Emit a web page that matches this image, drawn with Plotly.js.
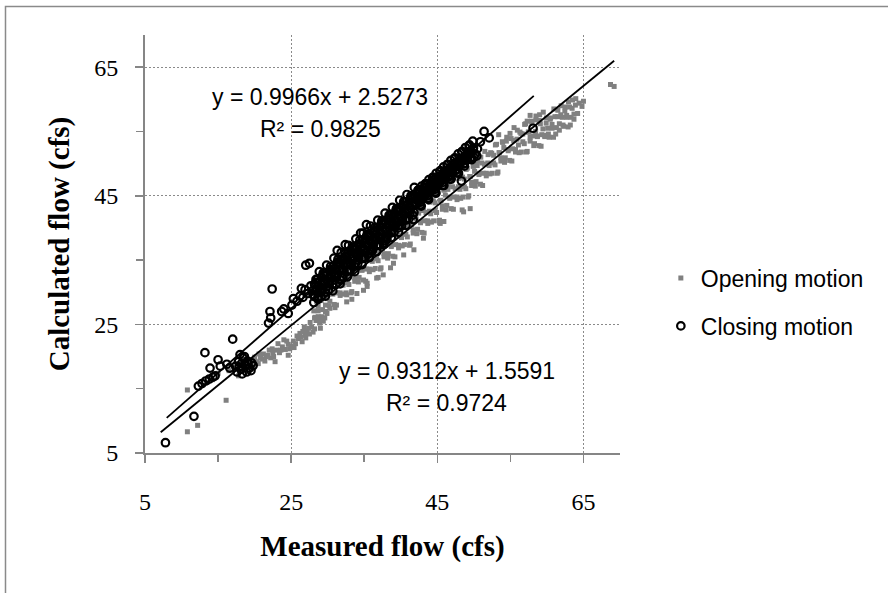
<!DOCTYPE html>
<html><head><meta charset="utf-8">
<script src="https://cdn.plot.ly/plotly-3.0.1.min.js"></script>
<style>html,body{margin:0;padding:0;background:#fff}#chart{width:888px;height:593px}</style>
</head><body><div id="chart"></div>
<script>
// ---- Opening motion (gray squares): measured flow (x), calculated flow (y)
const openX = [
  10.8,12.2,10.8,16.1,15.0,13.5,14.2,
  16.5,17.2,17.8,18.3,18.8,19.2,19.6,20.0,20.3,20.6,
  19.8,20.5,21.0,21.4,21.8,22.2,22.5,22.8,23.0,23.4,23.8,24.2,24.6,24.6,25.0,25.3,25.6,26.0,26.2,26.5,26.9,27.2,27.5,27.8,28.2,28.7,29.0,29.4,29.9,30.3,
  21.2,22.0,23.2,24.0,25.8,26.8,27.6,28.4,
  20.0,20.8,21.6,22.4,22.6,23.6,24.4,24.8,25.4,26.3,26.6,27.0,27.4,28.0,28.9,29.6,
  31.0,32.6,32.6,33.3,34.0,34.9,35.4,35.4,36.7,36.9,37.6,38.6,39.0,40.4,41.8,43.1,45.4,45.9,48.4,48.6,49.5,
  28.1,28.3,28.5,28.7,28.9,29.1,29.3,29.5,29.7,29.9,
  30.1,30.3,30.5,30.7,30.9,31.1,31.3,31.5,31.7,31.9,
  32.1,32.3,32.5,32.7,32.9,33.1,33.3,33.5,33.7,33.9,
  34.1,34.3,34.5,34.7,34.9,35.1,35.3,35.5,35.7,35.9,
  36.1,36.3,36.5,36.7,36.9,37.1,37.3,37.5,37.7,37.9,
  38.1,38.3,38.5,38.7,38.9,39.1,39.3,39.5,39.7,39.9,
  40.1,40.3,40.5,40.7,40.9,41.1,41.3,41.5,41.7,41.9,
  42.1,42.3,42.5,42.7,42.9,43.1,43.3,43.5,43.7,43.9,
  44.1,44.3,44.5,44.7,44.9,45.1,45.3,45.5,45.7,45.9,
  46.1,46.3,46.5,46.7,46.9,47.1,47.3,47.5,47.7,47.9,
  48.1,48.3,48.5,48.7,48.9,49.1,49.3,49.5,49.7,49.9,
  50.1,50.3,50.5,50.7,50.9,51.1,51.3,51.5,51.7,51.9,
  52.1,52.3,52.5,52.7,52.9,53.1,53.3,53.5,53.7,53.9,
  54.1,54.3,54.5,54.7,54.9,55.1,55.3,55.5,55.7,55.9,
  56.1,56.3,56.5,56.7,56.9,57.1,57.3,57.5,57.7,57.9,
  58.1,58.3,58.5,58.7,58.9,59.1,59.3,59.5,59.7,59.9,
  60.1,60.3,60.5,60.7,60.9,61.1,61.3,61.5,61.7,61.9,
  62.1,62.3,62.5,62.7,62.9,63.1,63.3,63.5,63.7,63.9,
  28.2,28.45,28.7,28.95,29.2,29.45,29.7,29.95,
  30.2,30.45,30.7,30.95,31.2,31.45,31.7,31.95,
  32.2,32.45,32.7,32.95,33.2,33.45,33.7,33.95,
  34.2,34.45,34.7,34.95,35.2,35.45,35.7,35.95,
  36.2,36.45,36.7,36.95,37.2,37.45,37.7,37.95,
  38.2,38.45,38.7,38.95,39.2,39.45,39.7,39.95,
  40.2,40.45,40.7,40.95,41.2,41.45,41.7,41.95,
  42.2,42.45,42.7,42.95,43.2,43.45,43.7,43.95,
  44.2,44.45,44.7,44.95,45.2,45.45,45.7,45.95,
  46.2,46.45,46.7,46.95,47.2,47.45,47.7,47.95,
  48.2,48.45,48.7,48.95,49.2,49.45,49.7,49.95,
  50.2,50.45,50.7,50.95,51.2,51.45,51.7,51.95,
  52.2,52.45,52.7,52.95,53.2,53.45,53.7,53.95,
  54.2,54.45,54.7,54.95,55.2,55.45,55.7,55.95,
  56.2,56.45,56.7,56.95,57.2,57.45,57.7,57.95,
  58.2,58.45,58.7,58.95,59.2,59.45,59.7,59.95,
  60.2,60.45,60.7,60.95,61.2,61.45,61.7,61.95,
  62.2,62.45,62.7,62.95,63.2,63.45,63.7,63.95,
  64.2,64.4,64.8,65.0,68.7,69.2,53.4,57.3,57.7,58.5,59.0
];
const openY = [
  8.3,9.3,14.8,13.2,17.4,16.0,16.4,
  17.8,18.4,17.0,18.8,17.8,19.5,18.4,19.9,19.2,20.4,
  18.7,18.9,19.6,19.3,20.2,19.8,20.6,19.2,21.0,20.6,21.5,21.1,21.9,20.2,21.6,22.4,22.0,22.8,23.6,22.3,23.3,24.0,23.5,24.6,24.3,26.2,24.4,25.5,26.7,27.5,
  20.4,21.0,22.0,22.6,23.2,24.6,25.3,25.6,
  19.4,19.8,20.0,21.2,20.0,21.0,22.4,21.2,21.4,23.0,23.9,22.9,24.4,23.8,25.2,26.0,
  27.6,28.5,29.6,28.9,29.8,30.3,30.9,31.4,32.2,32.3,32.7,33.8,34.5,35.8,36.6,38.4,40.7,41.0,42.8,42.5,43.0,
  27.1,26.1,28.5,27.1,25.9,28.7,27.3,30.0,27.0,29.0,
  30.2,28.6,31.8,29.9,28.1,31.5,29.9,33.3,29.5,31.5,
  31.1,33.0,29.9,32.7,31.2,34.4,30.1,33.1,32.2,34.7,
  33.9,32.3,35.5,33.6,31.9,35.2,33.6,37.0,33.2,35.2,
  34.8,36.8,33.7,36.4,34.9,38.1,33.8,36.8,36.0,38.5,
  37.6,36.0,39.2,37.3,35.6,39.0,37.4,40.7,36.9,38.9,
  38.5,40.5,37.4,40.2,38.6,41.8,37.5,40.5,39.7,42.2,
  41.4,39.8,42.9,41.0,39.3,42.7,41.1,44.5,40.7,42.6,
  42.2,44.2,41.1,43.9,42.4,45.6,41.2,44.2,43.4,45.9,
  45.1,43.5,46.7,44.8,43.0,46.4,44.8,48.2,44.4,46.4,
  46.0,47.9,44.8,47.6,46.1,49.3,45.0,48.0,47.1,49.6,
  48.8,47.2,50.4,48.5,46.8,50.1,48.5,51.9,48.1,50.1,
  49.7,51.7,48.5,51.3,49.8,53.0,48.7,51.7,50.9,53.4,
  52.5,50.9,54.1,52.2,50.5,53.9,52.3,55.6,51.8,53.8,
  52.9,54.9,51.8,54.6,53.1,56.2,51.9,54.9,54.1,56.6,
  54.3,53.1,56.8,54.3,52.8,56.2,54.5,58.0,54.2,56.3,
  55.5,54.1,57.1,55.5,54.1,57.3,55.6,58.3,55.2,57.6,
  57.2,55.8,58.8,57.2,55.7,58.8,57.2,59.9,56.9,59.1,
  26.0,29.3,27.8,30.5,26.2,29.4,28.0,31.0,
  27.9,31.1,29.7,32.4,28.0,31.3,29.9,32.8,
  29.7,33.0,31.5,34.2,29.9,33.1,31.7,34.7,
  31.6,34.8,33.4,36.1,31.7,35.0,33.6,36.5,
  33.5,36.7,35.2,38.0,33.6,36.8,35.5,38.4,
  35.3,38.6,37.1,39.8,35.5,38.7,37.3,40.3,
  37.2,40.4,39.0,41.7,37.3,40.6,39.2,42.1,
  39.1,42.3,40.8,43.6,39.2,42.4,41.1,44.0,
  40.9,44.2,42.7,45.4,41.1,44.3,42.9,45.9,
  42.8,46.0,44.6,47.3,42.9,46.1,44.8,47.7,
  44.6,47.9,46.4,49.1,44.8,48.0,46.6,49.6,
  46.5,49.7,48.3,51.0,46.6,49.9,48.5,51.4,
  48.4,51.6,50.1,52.9,48.5,51.7,50.4,53.3,
  50.2,53.5,52.0,54.7,50.4,53.6,52.2,55.2,
  51.7,54.7,53.4,56.1,51.8,54.9,53.5,56.4,
  52.8,55.0,54.2,56.7,52.7,55.4,54.4,57.1,
  54.6,56.9,56.1,58.5,54.6,57.3,56.2,59.0,
  56.0,58.2,57.5,59.6,56.0,58.6,57.7,60.1,
  57.8,59.4,58.9,59.7,62.3,62.0,54.5,56.6,57.5,57.4,57.6
];

// ---- Closing motion (black open circles)
const closeX = [
  7.8,11.7,12.3,13.2,12.8,13.3,13.8,14.3,14.6,13.9,15.0,15.3,16.6,17.0,16.2,
  17.4,17.8,18.1,18.4,18.7,19.0,19.3,19.6,18.0,18.9,19.5,17.6,18.3,19.8,18.6,18.2,19.1,17.9,
  21.9,22.1,22.2,22.4,23.7,24.6,25.3,25.1,24.0,25.8,26.2,26.6,26.9,27.0,27.5,27.3,27.7,26.4,27.9,
  28.0,28.2,28.4,28.6,28.8,
  29.0,29.2,29.4,29.7,29.9,
  30.1,30.3,30.5,30.8,30.9,
  31.1,31.3,31.3,31.6,31.8,31.9,
  32.0,32.2,32.4,32.5,32.7,32.9,
  33.0,33.2,33.4,33.6,33.8,33.9,
  34.0,34.2,34.5,34.4,34.7,34.9,
  35.0,35.1,35.3,35.2,35.5,35.7,35.9,
  36.0,36.1,36.3,36.5,36.7,36.9,
  37.0,37.2,37.4,37.6,37.7,37.9,
  38.0,38.2,38.4,38.6,38.8,38.9,
  39.0,39.2,39.4,39.6,39.8,39.9,
  40.0,40.2,40.4,40.6,40.8,40.9,
  41.0,41.2,41.4,41.6,41.8,41.9,
  42.0,42.2,42.4,42.6,42.8,42.9,
  43.0,43.2,43.4,43.6,43.8,43.9,
  44.0,44.2,44.4,44.6,44.8,44.9,
  45.0,45.2,45.4,45.7,45.9,
  46.0,46.3,46.5,46.8,46.9,
  47.0,47.3,47.5,47.8,47.9,
  48.0,48.3,48.4,48.7,48.9,
  49.0,49.3,49.6,49.9,
  50.0,50.2,50.4,50.5,50.9,51.4,52.1,58.1,
  28.1,28.25,28.4,28.55,28.7,28.85,28.95,
  29.1,29.25,29.4,29.55,29.7,29.85,29.95,
  30.1,30.25,30.4,30.55,30.7,30.85,30.95,
  31.1,31.25,31.4,31.55,31.7,31.85,31.95,
  32.1,32.25,32.4,32.55,32.7,32.85,32.95,
  33.1,33.25,33.4,33.55,33.7,33.85,33.95,
  34.1,34.25,34.4,34.55,34.7,34.85,34.95,
  35.1,35.25,35.4,35.55,35.7,35.85,35.95,
  36.1,36.25,36.4,36.55,36.7,36.85,36.95,
  37.1,37.25,37.4,37.55,37.7,37.85,37.95,
  38.1,38.25,38.4,38.55,38.7,38.85,38.95,
  39.1,39.25,39.4,39.55,39.7,39.85,39.95,
  40.1,40.25,40.4,40.55,40.7,40.85,40.95,
  41.1,41.25,41.4,41.55,41.7,41.85,41.95,
  42.1,42.25,42.4,42.55,42.7,42.85,42.95,
  43.1,43.25,43.4,43.55,43.7,43.85,43.95,
  44.1,44.25,44.4,44.55,44.7,44.85,44.95,
  45.1,45.25,45.4,45.55,45.7,45.85,45.95,
  46.1,46.25,46.4,46.55,46.7,46.85,46.95,
  47.1,47.25,47.4,47.55,47.7,47.85,47.95,
  48.1,48.25,48.4,48.55,48.7,48.85,48.95,
  49.1,49.25,49.4,49.55,49.7,49.85,49.95,
  28.05,28.35,28.65, 29.05,29.35,29.65, 30.05,30.35,30.65, 31.05,31.35,31.65,
  32.05,32.35,32.65, 33.05,33.35,33.65, 34.05,34.35,34.65, 35.05,35.35,35.65,
  36.05,36.35,36.65, 37.05,37.35,37.65, 38.05,38.35,38.65, 39.05,39.35,39.65,
  40.05,40.35,40.65, 41.05,41.35,41.65, 42.05,42.35,42.65, 43.05,43.35,43.65,
  44.05,44.35,44.65, 45.05,45.35,45.65, 46.05,46.35,46.65, 47.05,47.35,47.65,
  48.05,48.35,48.65, 49.05,49.35,49.65
];
const closeY = [
  6.6,10.7,15.4,20.6,15.8,16.2,16.5,16.8,17.0,18.2,19.5,18.5,18.2,22.7,18.8,
  18.5,19.2,18.0,19.8,18.6,19.3,18.2,19.0,20.3,17.6,17.8,17.6,17.3,18.6,20.0,18.9,18.9,18.4,
  25.2,27.0,26.0,30.5,27.0,26.7,29.0,28.0,27.4,28.6,29.4,29.2,30.4,34.2,34.5,29.8,31.0,30.6,30.2,
  29.6,31.2,30.3,32.0,30.9,
  30.4,32.3,31.5,33.0,30.9,
  31.6,33.4,32.5,34.0,31.9,
  32.6,34.4,36.5,33.3,35.0,32.4,
  33.5,35.3,37.4,34.2,36.0,33.4,
  34.6,36.4,35.2,37.0,34.5,36.0,
  35.5,37.4,39.2,36.2,38.0,35.3,
  36.6,35.4,40.5,38.4,37.1,39.0,36.4,
  36.7,37.6,39.4,38.1,40.0,37.4,
  38.6,40.3,39.1,37.6,41.0,38.4,
  39.5,41.3,40.1,42.0,39.4,40.8,
  40.5,42.3,41.1,43.0,40.4,41.8,
  41.5,43.3,42.1,44.0,41.4,42.8,
  42.5,44.3,43.1,45.0,42.4,43.8,
  43.5,45.3,44.1,46.0,43.4,44.8,
  44.5,46.3,45.1,46.8,44.4,45.8,
  45.5,47.2,46.1,47.6,45.4,46.8,
  46.5,48.0,47.1,48.4,46.6,
  47.6,49.0,48.1,49.4,47.6,
  48.6,50.0,49.0,50.2,48.5,
  49.6,47.3,50.8,50.0,51.2,
  50.5,51.6,50.8,52.2,
  51.0,51.5,51.2,52.3,53.4,55.0,54.0,55.5,
  28.4,29.3,32.0,30.5,28.9,33.2,31.8,
  29.3,30.3,33.0,31.6,29.4,34.2,32.8,
  30.3,31.3,34.0,32.6,30.2,35.3,33.7,
  31.2,32.3,35.1,33.6,31.3,36.2,34.8,
  32.3,33.3,36.0,34.6,32.4,37.3,35.8,
  33.4,34.3,37.0,35.5,33.2,38.3,36.8,
  34.3,35.3,38.1,36.6,34.3,39.2,37.7,
  35.3,36.2,39.0,37.6,35.4,40.3,38.8,
  36.4,37.3,40.0,38.5,36.3,41.2,39.8,
  37.3,38.3,41.1,39.6,37.4,42.3,40.7,
  38.2,39.3,42.0,40.6,38.5,43.2,41.8,
  39.4,40.3,43.0,41.5,39.3,44.3,42.8,
  40.3,41.2,44.1,42.6,40.4,45.2,43.7,
  41.4,42.3,45.0,43.6,41.3,46.3,44.8,
  43.7,44.8,45.9,44.5,43.6,46.5,45.4,
  44.7,45.8,46.9,45.5,44.6,47.5,46.4,
  45.7,46.8,47.9,46.5,45.6,48.5,47.4,
  46.7,47.8,48.9,47.5,46.6,49.5,48.4,
  47.7,48.8,49.9,48.5,47.6,50.5,49.4,
  48.7,49.8,50.9,49.5,48.6,51.5,50.4,
  49.7,50.8,51.9,50.5,49.6,52.5,51.4,
  50.7,51.8,52.9,51.5,50.6,53.5,52.4,
  29.6,31.5,29.2, 30.5,32.7,30.0, 31.6,33.5,31.2, 32.5,34.7,32.0,
  33.6,35.5,33.2, 34.5,36.7,34.0, 35.6,37.5,35.2, 36.5,38.7,36.0,
  37.6,39.5,37.2, 38.5,40.7,38.0, 39.6,41.5,39.2, 40.5,42.7,40.0,
  41.6,43.5,41.2, 42.5,44.7,42.0, 44.4,45.8,44.0, 45.4,46.8,45.0,
  46.4,47.8,46.0, 47.4,48.8,47.0, 48.4,49.8,48.0, 49.4,50.8,49.0,
  50.4,51.8,50.0, 51.4,52.8,51.0
];

// ---- Linear trendlines (equations as printed on the chart)
const openSlope = 0.9312, openIntercept = 1.5591, openTrendX = [7.15, 69.2];
const closeSlope = 0.9966, closeIntercept = 2.5273, closeTrendX = [7.97, 58.2];
const openEqText = ['y = 0.9312x + 1.5591', 'R² = 0.9724'];
const closeEqText = ['y = 0.9966x + 2.5273', 'R² = 0.9825'];
const seriesNames = ['Opening motion', 'Closing motion'];
const tickVals = [5, 25, 45, 65];

const serif = 'Liberation Serif, Times New Roman, serif';
const sans = 'Liberation Sans, Arial, sans-serif';
const gray = '#868686';

const traces = [
  {type:'scatter', mode:'markers', name:seriesNames[0], x:openX, y:openY, legendgroup:'a',
   marker:{symbol:'square', size:5, color:'#808080'}},
  {type:'scatter', mode:'markers', name:seriesNames[1], x:closeX, y:closeY, legendgroup:'b',
   marker:{symbol:'circle-open', size:7.5, color:'#000', line:{width:2.2, color:'#000'}}},
  {type:'scatter', mode:'lines', x:openTrendX, y:openTrendX.map(v => openSlope*v + openIntercept),
   line:{color:'#000', width:1.8}, showlegend:false, hoverinfo:'skip'},
  {type:'scatter', mode:'lines', x:closeTrendX, y:closeTrendX.map(v => closeSlope*v + closeIntercept),
   line:{color:'#000', width:1.8}, showlegend:false, hoverinfo:'skip'}
];

function axis(titleText, standoff, labelStandoff) {
  return {
    range:[5,70], tickmode:'array', tickvals:tickVals, ticktext:tickVals.map(String),
    showgrid:true, gridcolor:'#8a8a8a', gridwidth:1, griddash:'2px,2px',
    showline:true, linecolor:gray, linewidth:2,
    ticks:'outside', ticklen:8, tickwidth:1.5, tickcolor:gray,
    minor:{tickmode:'array', tickvals:[15,35,55], ticks:'outside', ticklen:7, tickwidth:1.5, tickcolor:gray, showgrid:false},
    zeroline:false, ticklabelstandoff:labelStandoff,
    tickfont:{family:serif, size:24, color:'#000'},
    title:{text:titleText, standoff:standoff, font:{family:serif, size:29, color:'#000', weight:'bold'}},
    fixedrange:true
  };
}

const eqFont = {family:sans, size:23, color:'#000'};
const layout = {
  width:888, height:593,
  margin:{l:145, r:268, t:35, b:140, pad:0},
  paper_bgcolor:'#fff', plot_bgcolor:'#fff',
  xaxis:axis('Measured flow (cfs)', 22, 18),
  yaxis:axis('Calculated flow (cfs)', 16, 12),
  showlegend:true,
  legend:{x:1.086, xanchor:'left', y:0.47, yanchor:'top', bgcolor:'rgba(0,0,0,0)',
          font:{family:sans, size:23, color:'#000'}, traceorder:'grouped', tracegroupgap:15},
  annotations:[
    {x:29.0, y:60.4, xref:'x', yref:'y', text:closeEqText[0], showarrow:false, font:eqFont},
    {x:29.0, y:55.4, xref:'x', yref:'y', text:closeEqText[1], showarrow:false, font:eqFont},
    {x:46.3, y:17.8, xref:'x', yref:'y', text:openEqText[0], showarrow:false, font:eqFont},
    {x:46.3, y:12.8, xref:'x', yref:'y', text:openEqText[1], showarrow:false, font:eqFont}
  ],
  shapes:[
    {type:'rect', xref:'paper', yref:'paper', x0:-0.2937, x1:1.75, y0:-0.45, y1:1.0682,
     line:{color:'#8a8a8a', width:1.5}, fillcolor:'rgba(0,0,0,0)', layer:'below'}
  ]
};

Plotly.newPlot('chart', traces, layout, {displayModeBar:false, staticPlot:true});
</script></body></html>
